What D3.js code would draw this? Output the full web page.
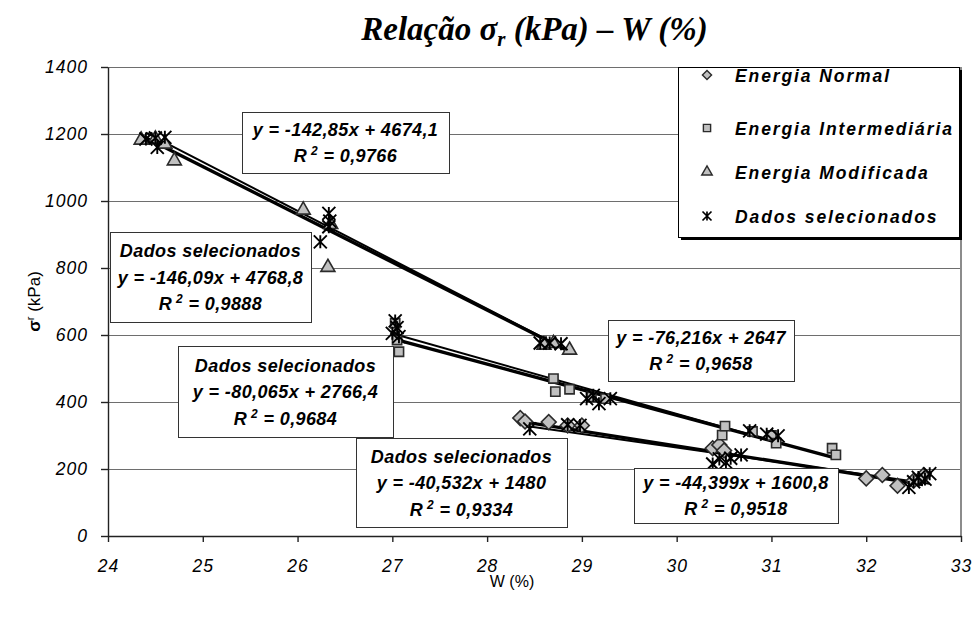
<!DOCTYPE html>
<html>
<head>
<meta charset="utf-8">
<script src="https://cdn.jsdelivr.net/npm/d3@7"></script>
<style>
  body { margin: 0; background: #fff; }
  svg { display: block; }
</style>
</head>
<body>
<svg id="chart" width="972" height="622"></svg>
<script>
// ---- Data: W (%) and sigma_r (kPa) per compaction energy ----
const energiaNormal = [
  [28.35, 352], [28.40, 342], [28.65, 340], [28.85, 330], [29.00, 330],
  [30.38, 262], [30.45, 272], [30.50, 255],
  [32.00, 172], [32.17, 182], [32.33, 150], [32.50, 165], [32.60, 180]
];
const energiaIntermediaria = [
  [27.03, 635], [27.05, 585], [27.07, 550],
  [28.70, 470], [28.72, 431], [28.87, 438], [29.10, 415], [29.25, 410],
  [30.48, 301], [30.51, 328], [30.80, 312], [31.00, 300], [31.05, 277],
  [31.64, 262], [31.68, 242]
];
const energiaModificada = [
  [24.35, 1182], [24.50, 1185], [24.60, 1170], [24.70, 1120],
  [26.06, 973], [26.35, 930], [26.32, 802],
  [28.60, 570], [28.70, 575], [28.87, 555]
];
// selected subsets (one group per energy)
const selModificada = [
  [24.40, 1185], [24.50, 1188], [24.60, 1190], [24.52, 1160],
  [26.24, 878], [26.33, 963], [26.34, 940], [26.33, 923],
  [28.56, 576], [28.66, 576], [28.78, 574]
];
const selIntermediaria = [
  [27.00, 605], [27.03, 642], [27.05, 622], [27.07, 595],
  [29.05, 410], [29.12, 420], [29.18, 395], [29.30, 410],
  [30.77, 314], [30.95, 304], [31.07, 299]
];
const selNormal = [
  [28.45, 320], [28.85, 332], [28.98, 330],
  [30.38, 215], [30.45, 230], [30.52, 220], [30.57, 232], [30.68, 242],
  [32.45, 145], [32.50, 162], [32.55, 175], [32.62, 170], [32.67, 186]
];

// Linear trend lines: series order = Modificada, sel. Modificada,
// Intermediária, sel. Intermediária, Normal, sel. Normal
const trendSlopes     = [-142.85, -146.09, -76.216, -80.065, -44.399, -40.532];
const trendIntercepts = [4674.1, 4768.8, 2647, 2766.4, 1600.8, 1480];
const trendR2         = [0.9766, 0.9888, 0.9658, 0.9684, 0.9518, 0.9334];
const trendSelected   = [false, true, false, true, false, true];

const xTicks = [24, 25, 26, 27, 28, 29, 30, 31, 32, 33];
const yTicks = [0, 200, 400, 600, 800, 1000, 1200, 1400];
const legendLabels = ["Energia Normal", "Energia Intermediária", "Energia Modificada", "Dados selecionados"];

// ---- Layout ----
const svg = d3.select("#chart");
const plot = { left: 108, right: 961, top: 67, bottom: 536 };
const x = d3.scaleLinear().domain([24, 33]).range([plot.left, plot.right]);
const y = d3.scaleLinear().domain([0, 1400]).range([plot.bottom, plot.top]);

const SANS = "'Liberation Sans', Arial, sans-serif";
const SERIF = "'Liberation Serif', 'Times New Roman', serif";
const comma = v => String(v).replace(".", ",");

svg.append("rect").attr("width", 972).attr("height", 622).attr("fill", "#fff");

// Gridlines and plot frame
svg.append("g").selectAll("line").data(yTicks.filter(d => d > 0)).join("line")
  .attr("x1", plot.left).attr("x2", plot.right)
  .attr("y1", d => y(d)).attr("y2", d => y(d))
  .attr("stroke", "#6e6e6e").attr("stroke-width", 1).attr("shape-rendering", "crispEdges");
svg.append("line")
  .attr("x1", plot.right).attr("x2", plot.right).attr("y1", plot.top).attr("y2", plot.bottom)
  .attr("stroke", "#8c8c8c").attr("stroke-width", 1.5).attr("shape-rendering", "crispEdges");

// Axes
const gx = svg.append("g").attr("transform", `translate(0,${plot.bottom})`)
  .call(d3.axisBottom(x).tickValues(xTicks).tickSize(6).tickSizeOuter(0).tickPadding(18).tickFormat(d => d));
const gy = svg.append("g").attr("transform", `translate(${plot.left},0)`)
  .call(d3.axisLeft(y).tickValues(yTicks).tickSize(7).tickSizeOuter(0).tickPadding(13).tickFormat(d => d));
[gx, gy].forEach(g => {
  g.selectAll(".domain, .tick line").attr("stroke", "#222").attr("stroke-width", 1.4);
  g.selectAll(".tick text")
    .attr("fill", "#000")
    .style("font-family", SANS).style("font-style", "italic")
    .style("font-size", "17.5px").style("letter-spacing", "1px");
});

// Axis titles
svg.append("text")
  .attr("x", 512).attr("y", 587).attr("text-anchor", "middle")
  .style("font-family", SANS).style("font-size", "16px").attr("fill", "#000")
  .text("W (%)");
const yt = svg.append("text")
  .attr("transform", `translate(40,${(plot.top + plot.bottom) / 2}) rotate(-90)`)
  .attr("text-anchor", "middle")
  .style("font-family", SANS).style("font-size", "17px").attr("fill", "#000");
yt.append("tspan").style("font-weight", "bold").text("σ");
yt.append("tspan").attr("dy", -6).style("font-size", "11px").text("r");
yt.append("tspan").attr("dy", 6).text(" (kPa)");

// Chart title
const title = svg.append("text")
  .attr("x", (plot.left + plot.right) / 2).attr("y", 40).attr("text-anchor", "middle")
  .style("font-family", SERIF).style("font-size", "33px")
  .style("font-weight", "bold").style("font-style", "italic").attr("fill", "#000");
title.append("tspan").text("Relação ");
title.append("tspan").text("σ");
title.append("tspan").attr("dy", 6).style("font-size", "21px").text("r");
title.append("tspan").attr("dy", -6).text(" (kPa) – W (%)");

// Trend lines over the W range of each data group
const groups = [energiaModificada, selModificada, energiaIntermediaria, selIntermediaria, energiaNormal, selNormal];
const trendLine = d3.line().x(d => x(d[0])).y(d => y(d[1]));
const tl = svg.append("g");
trendSlopes.forEach((m, i) => {
  const [x0, x1] = d3.extent(groups[i], d => d[0]);
  const b = trendIntercepts[i];
  tl.append("path")
    .attr("d", trendLine([[x0, m * x0 + b], [x1, m * x1 + b]]))
    .attr("fill", "none").attr("stroke", "#000")
    .attr("stroke-width", trendSelected[i] ? 2 : 3.4);
});

// Marker shapes
const diamond = d3.symbol().type(d3.symbolSquare).size(110);
const square = d3.symbol().type(d3.symbolSquare).size(85);
const triangle = d3.symbol().type(d3.symbolTriangle).size(85);
function starPath(r) {
  const p = d3.path();
  p.moveTo(-r, -r); p.lineTo(r, r);
  p.moveTo(-r, r); p.lineTo(r, -r);
  p.moveTo(0, -r); p.lineTo(0, r);
  return p.toString();
}
const markerFill = "#c0c0c0", markerStroke = "#2b2b2b";

function drawSeries(data, kind) {
  const g = svg.append("g");
  const sel = g.selectAll("path").data(data).join("path");
  if (kind === "diamond") {
    sel.attr("d", diamond()).attr("transform", d => `translate(${x(d[0])},${y(d[1])}) rotate(45)`);
  } else if (kind === "square") {
    sel.attr("d", square()).attr("transform", d => `translate(${x(d[0])},${y(d[1])})`);
  } else if (kind === "triangle") {
    sel.attr("d", triangle()).attr("transform", d => `translate(${x(d[0])},${y(d[1])})`);
  } else {
    sel.attr("d", starPath(6.5)).attr("transform", d => `translate(${x(d[0])},${y(d[1])})`)
      .attr("fill", "none").attr("stroke", "#000").attr("stroke-width", 1.9);
    return;
  }
  sel.attr("fill", markerFill).attr("stroke", markerStroke).attr("stroke-width", 1.6);
}
drawSeries(energiaNormal, "diamond");
drawSeries(energiaIntermediaria, "square");
drawSeries(energiaModificada, "triangle");
drawSeries(selModificada.concat(selIntermediaria, selNormal), "star");

// Trend equation labels
const labelBoxes = [
  { i: 0, x0: 242, y0: 112, x1: 449, y1: 173 },
  { i: 1, x0: 110, y0: 232, x1: 311, y1: 322 },
  { i: 2, x0: 608, y0: 320, x1: 794, y1: 381 },
  { i: 3, x0: 178, y0: 346, x1: 393, y1: 437 },
  { i: 4, x0: 634, y0: 468, x1: 838, y1: 523 },
  { i: 5, x0: 356, y0: 438, x1: 567, y1: 527 }
];
const fmtEq = i => `y = ${comma(trendSlopes[i])}x + ${comma(trendIntercepts[i])}`;
labelBoxes.forEach(bx => {
  const g = svg.append("g");
  g.append("rect")
    .attr("x", bx.x0 + 0.5).attr("y", bx.y0 + 0.5)
    .attr("width", bx.x1 - bx.x0).attr("height", bx.y1 - bx.y0)
    .attr("fill", "#fff").attr("stroke", "#333").attr("stroke-width", 1);
  const lines = trendSelected[bx.i] ? ["Dados selecionados", fmtEq(bx.i), null] : [fmtEq(bx.i), null];
  const cx = (bx.x0 + bx.x1) / 2;
  const lh = 26.5;
  const firstY = (bx.y0 + bx.y1) / 2 - (lines.length - 1) * lh / 2 + 6.5;
  lines.forEach((ln, k) => {
    const t = g.append("text")
      .attr("x", cx).attr("y", firstY + k * lh).attr("text-anchor", "middle")
      .style("font-family", SANS).style("font-size", "18px")
      .style("font-weight", "bold").style("font-style", "italic")
      .style("letter-spacing", "0.4px").attr("fill", "#000");
    if (ln !== null) { t.text(ln); return; }
    t.append("tspan").text("R");
    t.append("tspan").attr("dy", -7).style("font-size", "12px").text(" 2");
    t.append("tspan").attr("dy", 7).text(` = ${comma(trendR2[bx.i])}`);
  });
});

// Legend
const lg = svg.append("g");
lg.append("rect").attr("x", 681).attr("y", 70).attr("width", 281).attr("height", 170).attr("fill", "#000");
lg.append("rect").attr("x", 678.5).attr("y", 67.5).attr("width", 281).attr("height", 170)
  .attr("fill", "#fff").attr("stroke", "#000").attr("stroke-width", 1);
const legendRows = [75, 128, 172, 216];
const legendKinds = ["diamond", "square", "triangle", "star"];
legendLabels.forEach((lab, k) => {
  const cy = legendRows[k], mx = 707;
  const kind = legendKinds[k];
  if (kind === "diamond") {
    lg.append("path").attr("d", d3.symbol().type(d3.symbolSquare).size(42)())
      .attr("transform", `translate(${mx},${cy}) rotate(45)`)
      .attr("fill", markerFill).attr("stroke", markerStroke).attr("stroke-width", 1.4);
  } else if (kind === "square") {
    lg.append("path").attr("d", d3.symbol().type(d3.symbolSquare).size(52)())
      .attr("transform", `translate(${mx},${cy})`)
      .attr("fill", markerFill).attr("stroke", markerStroke).attr("stroke-width", 1.4);
  } else if (kind === "triangle") {
    lg.append("path").attr("d", d3.symbol().type(d3.symbolTriangle).size(48)())
      .attr("transform", `translate(${mx},${cy})`)
      .attr("fill", markerFill).attr("stroke", markerStroke).attr("stroke-width", 1.4);
  } else {
    lg.append("path").attr("d", starPath(4.5))
      .attr("transform", `translate(${mx},${cy})`)
      .attr("fill", "none").attr("stroke", "#000").attr("stroke-width", 1.7);
  }
  lg.append("text")
    .attr("x", 735).attr("y", cy + 6.5)
    .style("font-family", SANS).style("font-size", "17.5px")
    .style("font-weight", "bold").style("font-style", "italic")
    .style("letter-spacing", "1.9px").attr("fill", "#000")
    .text(lab);
});
</script>
</body>
</html>
